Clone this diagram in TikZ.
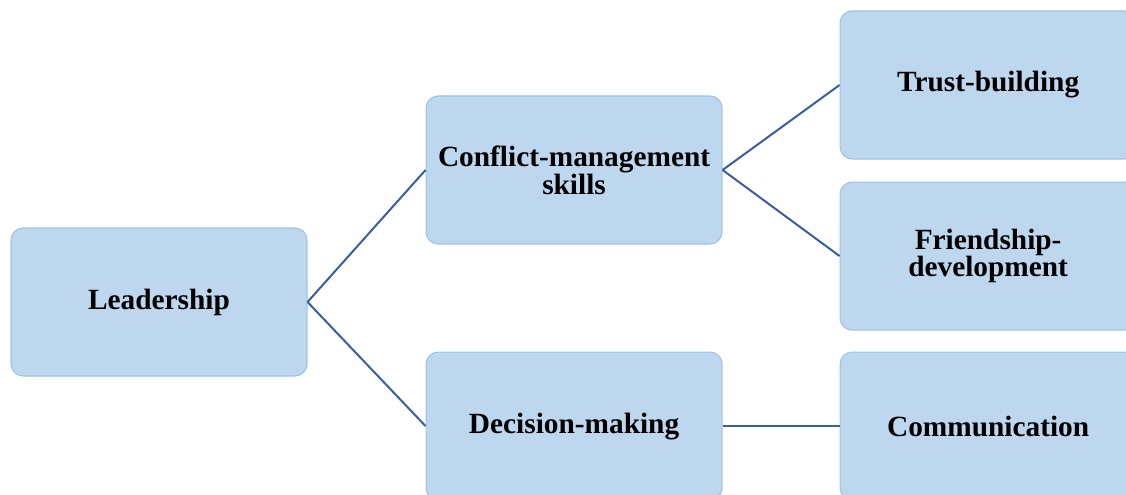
\documentclass[tikz,border=0pt]{standalone}
\usepackage{fontspec}
\setmainfont{Liberation Serif}
\usetikzlibrary{positioning}

\definecolor{boxfill}{HTML}{BDD7EE}
\definecolor{boxline}{HTML}{9DC3E6}
\definecolor{linkline}{HTML}{3A5DA8}

\begin{document}
\begin{tikzpicture}[
        x=0.75pt, y=0.75pt,
        box/.style = {rectangle, rounded corners=9pt, draw=boxline, line width=0.8pt, fill=boxfill,
                      minimum width=222pt, minimum height=111pt, align=center,
                      font=\fontsize{22pt}{20pt}\selectfont\bfseries},
        link/.style = {draw=linkline, line width=1.5pt}
    ]
        \useasboundingbox (0,0) rectangle (1126,-495);

        % First level
        \node[box] (leadership) at (159,-302) {Leadership};

        % Second level
        \node[box, right=88.5pt of leadership, yshift=99pt] (conflict) {Conflict-management\\skills};
        \node[box, below=80.25pt of conflict] (decision) {Decision-making};

        % Third level
        \node[box, right=87.75pt of conflict, yshift=63.75pt] (trust) {Trust-building};
        \node[box, below=16.5pt of trust] (friendship) {Friendship-\\development};
        \node[box, right=87.75pt of decision] (communication) {Communication};

        % Links
        \draw[link] (leadership.east) -- (conflict.west);
        \draw[link] (leadership.east) -- (decision.west);
        \draw[link] (conflict.east) -- (trust.west);
        \draw[link] (conflict.east) -- (friendship.west);
        \draw[link] (decision.east) -- (communication.west);
    \end{tikzpicture}
\end{document}
